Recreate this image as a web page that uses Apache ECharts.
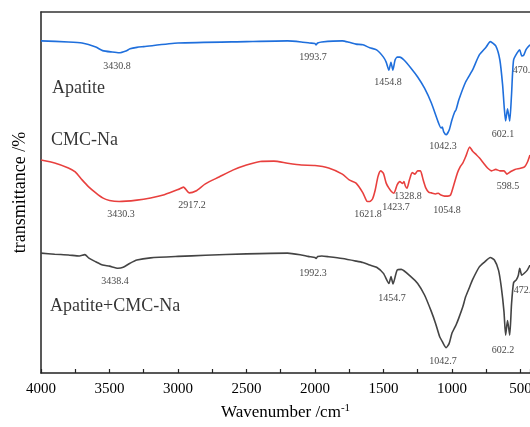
<!DOCTYPE html>
<html>
<head>
<meta charset="utf-8">
<script src="https://cdn.jsdelivr.net/npm/echarts@6/dist/echarts.min.js"></script>
<style>html,body{margin:0;padding:0;background:#fff}#chart{width:530px;height:427px}</style>
</head>
<body>
<div id="chart"></div>
<script>
// Apatite (blue)
var apatiteWn = [4000,3800,3700,3600,3550,3480,3430,3380,3350,3300,3250,3000,2500,2200,2100,2040,2000,1993,1980,1950,1800,1750,1700,1650,1600,1550,1500,1480,1460,1445,1431,1415,1400,1380,1350,1300,1250,1200,1150,1100,1080,1070,1060,1042,1020,1000,980,970,950,900,850,800,750,720,680,650,630,618,608,594,578,565,550,520,505,490,475,460,445,430];
var apatiteT  = [92.0,91.7,91.4,90.3,89.3,88.9,88.7,89.2,89.8,90.2,90.4,91.4,91.8,92.0,91.7,91.4,91.3,90.9,91.4,91.7,92.0,91.6,91.1,90.9,90.1,89.5,87.5,86.1,83.9,86.1,83.9,86.7,87.5,87.5,86.7,84.5,82.0,78.9,74.8,69.5,67.9,68.1,66.8,66.0,67.3,70.1,72.3,72.9,75.6,80.6,83.9,88.1,90.3,91.8,90.6,86.7,79.8,73.5,69.8,73.2,69.8,77.0,86.7,88.9,89.5,87.8,88.1,89.5,90.3,90.9];
// CMC-Na (red)
var cmcWn = [4000,3900,3800,3750,3700,3650,3600,3550,3500,3430,3300,3200,3100,3000,2960,2917,2870,2800,2700,2600,2500,2400,2300,2200,2100,2000,1900,1800,1750,1700,1650,1621,1600,1580,1560,1540,1520,1500,1480,1460,1440,1423,1400,1380,1360,1350,1340,1328,1310,1290,1270,1250,1230,1210,1190,1170,1150,1120,1100,1080,1054,1030,1010,990,960,940,920,900,870,850,820,800,770,740,710,680,650,620,598,570,540,500,470,450,430];
var cmcT  = [59.0,58.2,56.8,55.7,53.5,51.5,49.9,48.5,47.8,47.5,47.9,48.5,49.4,50.8,51.5,49.9,50.4,52.4,54.3,56.2,57.6,58.6,58.7,58.1,57.6,57.5,56.8,55.1,53.5,52.6,49.9,47.6,47.5,48.2,50.7,54.4,56.0,55.3,52.6,51.2,50.2,49.8,52.1,53.0,52.5,53.0,51.8,51.2,53.5,55.5,55.1,56.0,56.0,53.5,51.2,50.1,49.9,49.6,49.8,49.3,49.0,49.0,49.3,51.6,55.4,57.1,58.2,59.9,62.6,61.5,60.4,59.6,58.2,56.8,56.0,56.4,56.0,56.0,55.1,55.8,56.4,56.7,57.1,58.3,60.4];
// Apatite+CMC-Na (dark gray)
var mixWn = [4000,3900,3800,3720,3680,3650,3600,3550,3500,3438,3400,3350,3300,3200,3000,2800,2500,2200,2100,2050,2000,1992,1980,1950,1900,1800,1700,1650,1600,1550,1500,1460,1445,1430,1400,1370,1300,1250,1200,1150,1120,1090,1070,1042,1020,1000,970,950,920,900,870,850,800,760,720,690,660,640,620,608,594,578,565,550,530,515,505,490,470,450,430];
var mixT  = [33.2,32.9,32.7,32.4,32.8,31.8,30.8,29.9,29.6,29.0,29.3,30.4,31.3,31.9,32.3,32.6,33.0,33.2,32.7,32.3,32.0,31.7,32.3,32.4,32.2,31.7,31.0,30.6,29.9,29.3,27.6,24.8,26.7,24.7,28.5,28.7,26.7,24.8,21.6,17.0,13.8,10.1,8.7,7.0,8.2,11.0,13.3,15.2,18.4,21.1,23.9,25.8,29.4,30.8,32.0,31.3,28.5,23.9,17.0,10.5,14.5,10.5,19.0,25.0,25.8,27.1,29.0,27.1,27.7,28.5,29.9];

// peak annotations: text, wavenumber, transmittance
var peakText = ['3430.8','1993.7','1454.8','1042.3','602.1','470.6','3430.3','2917.2','1621.8','1423.7','1328.8','1054.8','598.5','3438.4','1992.3','1454.7','1042.7','602.2','472.4'];
var peakWn   = [3445,2015,1467,1066,628,474,3416,2898,1613,1409,1321,1036,591,3460,2015,1438,1066,628,467];
var peakT    = [85.0,87.3,80.6,62.9,66.0,83.9,44.0,46.3,44.0,46.0,48.8,45.0,51.6,25.5,27.7,20.8,3.3,6.4,23.0];

// sample names
var sampleName = ['Apatite','CMC-Na','Apatite+CMC-Na'];
var sampleWn   = [3920,3927,3934];
var sampleT    = [78.9,64.5,18.6];

function pairs(xs, ys){ return xs.map(function(x,i){ return [x, ys[i]]; }); }

var serif = '"Liberation Serif","Times New Roman",serif';
var chart = echarts.init(document.getElementById('chart'));
chart.setOption({
  animation: false,
  backgroundColor: '#fff',
  grid: {left: 41, right: 0, top: 12, bottom: 54, containLabel: false, outerBoundsMode: 'none'},
  xAxis: [{
    type: 'value', inverse: true, min: 430, max: 4000, splitNumber: 7,
    name: '{n|Wavenumber /cm}{s|-1}', nameLocation: 'middle', nameGap: 30,
    nameTextStyle: {rich: {n: {fontFamily: serif, fontSize: 17, color: '#000'}, s: {fontFamily: serif, fontSize: 11, color: '#000', verticalAlign: 'top', padding:[0,0,8,0]}}},
    axisLine: {show: true, onZero: false, lineStyle: {color: '#222', width: 1.5}},
    axisTick: {show: true, inside: true, length: 4, lineStyle: {color: '#222', width: 1.2}},
    minorTick: {show: true, splitNumber: 2, length: 4, lineStyle: {color: '#222', width: 1.2}},
    axisLabel: {fontFamily: serif, fontSize: 15, color: '#000', margin: 9, showMinLabel: false, formatter: function(v){ return String(v); }},
    splitLine: {show: false}
  }, {
    type: 'value', position: 'top', inverse: true, min: 430, max: 4000,
    axisLine: {show: true, onZero: false, lineStyle: {color: '#333', width: 1.5}},
    axisTick: {show: false}, axisLabel: {show: false}, splitLine: {show: false}
  }],
  yAxis: {
    type: 'value', min: 0, max: 100,
    name: 'transmittance /%', nameLocation: 'middle', nameGap: 12, nameRotate: 90,
    nameTextStyle: {fontFamily: serif, fontSize: 18, color: '#000'},
    axisLine: {show: true, onZero: false, lineStyle: {color: '#222', width: 1.5}},
    axisTick: {show: false}, axisLabel: {show: false}, splitLine: {show: false}
  },
  series: [
    {type: 'line', data: pairs(apatiteWn, apatiteT), showSymbol: false, symbol: 'none', smooth: 0.2, lineStyle: {color: '#1f6fdc', width: 1.6}, silent: true},
    {type: 'line', data: pairs(cmcWn, cmcT), showSymbol: false, symbol: 'none', smooth: 0.2, lineStyle: {color: '#e8403e', width: 1.6}, silent: true},
    {type: 'line', data: pairs(mixWn, mixT), showSymbol: false, symbol: 'none', smooth: 0.2, lineStyle: {color: '#444', width: 1.6}, silent: true},
    {type: 'scatter', symbolSize: 0, silent: true,
     data: peakText.map(function(t,i){ return [peakWn[i], peakT[i], t]; }),
     label: {show: true, position: 'inside', formatter: function(p){ return p.value[2]; }, fontFamily: serif, fontSize: 10, color: '#111'}},
    {type: 'scatter', symbolSize: 0, silent: true,
     data: sampleName.map(function(t,i){ return [sampleWn[i], sampleT[i], t]; }),
     label: {show: true, position: 'right', distance: 0, formatter: function(p){ return p.value[2]; }, fontFamily: serif, fontSize: 18, color: '#000'}}
  ]
});
</script>
</body>
</html>
